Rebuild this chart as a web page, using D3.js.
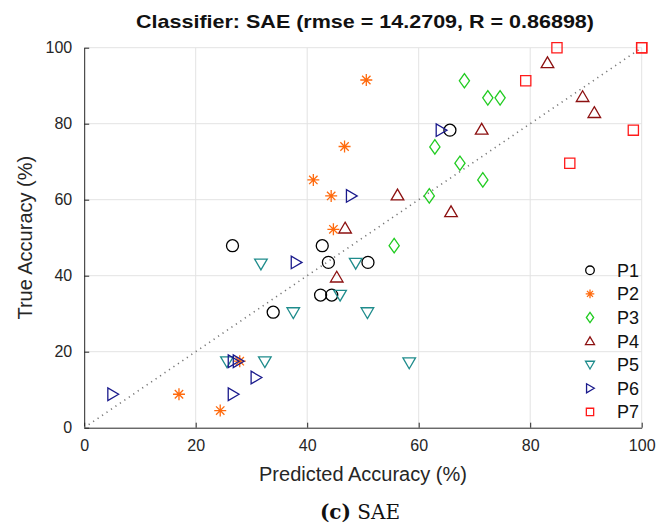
<!DOCTYPE html>
<html lang="en">
<head>
<meta charset="UTF-8">
<title>Classifier SAE scatter</title>
<style type="text/css">
	body{ margin: 0; background: #fff; font-family: 'Liberation Sans', Arial, sans-serif; }
	.grid line { stroke: #e3e3e3; stroke-width: 1px }
	.axis path, .axis line { fill: none; stroke: #262626; stroke-width: 1px }
	.axis text { font-size: 16px; fill: #262626 }
	.label { font-size: 20px; fill: #262626 }
	.title { font-size: 19px; font-weight: bold; fill: #111 }
	.legend text { font-size: 18px; fill: #111 }
	.mark { fill: none; stroke-width: 1.3px }
</style>
<script src="https://cdn.jsdelivr.net/npm/d3@7"></script>
</head>
<body>
<script type="text/javascript">

// values: [predicted, true]
var p1 = [[26.6,47.9],[42.7,47.9],[43.8,43.5],[50.9,43.5],[42.4,34.9],[44.4,34.9],[33.9,30.4],[65.6,78.3]];
var p2 = [[50.6,91.5],[46.7,74],[41.1,65.2],[44.3,61],[44.7,52.2],[27.9,17.5],[17,8.8],[24.4,4.5]];
var p3 = [[68.2,91.3],[72.4,86.8],[74.6,86.8],[62.9,73.9],[67.4,69.6],[71.5,65.2],[61.9,61],[55.6,47.9]];
var p4 = [[46.8,52.5],[45.3,39.6],[56.2,61.2],[65.8,56.8],[71.3,78.5],[83.1,96],[89.4,87.1],[91.5,82.9]];
var p5 = [[31.7,43.1],[48.7,43.3],[45.9,34.9],[37.5,30.3],[50.8,30.3],[58.3,17.1],[25.6,17.4],[32.4,17.4]];
var p6 = [[64,78.3],[47.9,61],[38,43.5],[26.7,17.5],[27.6,17.5],[30.8,13.2],[5.1,8.8],[26.7,8.8]];
var p7 = [[84.8,100],[100,100],[100,100],[79.2,91.3],[98.5,78.3],[87.1,69.6]];

var seriesNames = ['P1','P2','P3','P4','P5','P6','P7'];
var seriesData = [p1, p2, p3, p4, p5, p6, p7];
var seriesMarks = ['circle','star','diamond','up','down','right','square'];
var seriesColors = ['#000000','#ff6a0d','#22cc22','#8c1010','#1f8c8c','#1a1a8c','#ff1a1a'];
var ticks = [0, 20, 40, 60, 80, 100];

var titleText = 'Classifier: SAE (rmse = 14.2709, R = 0.86898)';

var width = 659, height = 530;
var plotLeft = 84.2, plotRight = 641.7, plotTop = 47.7, plotBottom = 427.7;

var svg = d3.select('body').append('svg')
	.attr('width', width)
	.attr('height', height);

var xScale = d3.scaleLinear().domain([0, 100]).range([plotLeft, plotRight]);
var yScale = d3.scaleLinear().domain([0, 100]).range([plotBottom, plotTop]);

// grid
var grid = svg.append('g').attr('class', 'grid');
grid.selectAll('.gx').data(ticks.slice(1)).enter().append('line')
	.attr('x1', d => xScale(d)).attr('x2', d => xScale(d))
	.attr('y1', plotTop).attr('y2', plotBottom);
grid.selectAll('.gy').data(ticks.slice(1)).enter().append('line')
	.attr('y1', d => yScale(d)).attr('y2', d => yScale(d))
	.attr('x1', plotLeft).attr('x2', plotRight);

// axes, ticks inward
var xAxis = d3.axisBottom(xScale).tickValues(ticks).tickSizeInner(-5).tickSizeOuter(0).tickPadding(12);
var yAxis = d3.axisLeft(yScale).tickValues(ticks).tickSizeInner(-5).tickSizeOuter(0).tickPadding(12);

svg.append('g').attr('class', 'x axis')
	.attr('transform', 'translate(0,' + plotBottom + ')')
	.call(xAxis)
	.selectAll('text').attr('font-family', 'Liberation Sans, Arial, sans-serif');
svg.append('g').attr('class', 'y axis')
	.attr('transform', 'translate(' + plotLeft + ',0)')
	.call(yAxis)
	.selectAll('text').attr('font-family', 'Liberation Sans, Arial, sans-serif');

// diagonal
svg.append('line')
	.attr('x1', xScale(0)).attr('y1', yScale(0))
	.attr('x2', xScale(100)).attr('y2', yScale(100))
	.attr('stroke', '#777').attr('stroke-width', 1.6)
	.attr('stroke-dasharray', '1.2,4.2');

// marker path, s = half size
function markPath(kind, s) {
	var p = d3.path();
	if (kind == 'circle') {
		p.moveTo(s, 0); p.arc(0, 0, s, 0, 2 * Math.PI);
	} else if (kind == 'square') {
		p.rect(-s * 0.85, -s * 0.85, s * 1.7, s * 1.7);
	} else if (kind == 'diamond') {
		p.moveTo(0, -s * 1.2); p.lineTo(s * 0.85, 0); p.lineTo(0, s * 1.2); p.lineTo(-s * 0.85, 0); p.closePath();
	} else if (kind == 'up') {
		p.moveTo(0, -s); p.lineTo(s * 1.05, s * 0.8); p.lineTo(-s * 1.05, s * 0.8); p.closePath();
	} else if (kind == 'down') {
		p.moveTo(0, s); p.lineTo(s * 1.05, -s * 0.8); p.lineTo(-s * 1.05, -s * 0.8); p.closePath();
	} else if (kind == 'right') {
		p.moveTo(s, 0); p.lineTo(-s * 0.8, s * 1.05); p.lineTo(-s * 0.8, -s * 1.05); p.closePath();
	} else if (kind == 'star') {
		p.moveTo(-s, 0); p.lineTo(s, 0);
		p.moveTo(0, -s); p.lineTo(0, s);
		var d = s * 0.7;
		p.moveTo(-d, -d); p.lineTo(d, d);
		p.moveTo(-d, d); p.lineTo(d, -d);
	}
	return p.toString();
}

// points
seriesData.forEach(function(data, i) {
	svg.append('g').selectAll('path')
		.data(data)
		.enter().append('path')
		.attr('class', 'mark')
		.attr('transform', d => 'translate(' + xScale(d[0]) + ',' + yScale(d[1]) + ')')
		.attr('d', markPath(seriesMarks[i], 6))
		.attr('stroke', seriesColors[i]);
});

// legend
var legend = svg.selectAll('.legend')
	.data(seriesNames)
	.enter().append('g')
	.attr('class', 'legend')
	.attr('transform', (d, i) => 'translate(590,' + (270.3 + i * 23.6) + ')');
legend.append('path')
	.attr('class', 'mark')
	.attr('d', (d, i) => markPath(seriesMarks[i], 4.3))
	.attr('stroke', (d, i) => seriesColors[i]);
legend.append('text')
	.attr('x', 27).attr('dy', '0.36em')
	.text(d => d);

// labels
svg.append('text').attr('class', 'title')
	.attr('x', 365).attr('y', 28)
	.attr('text-anchor', 'middle')
	.attr('textLength', 458)
	.attr('lengthAdjust', 'spacingAndGlyphs')
	.text(titleText);

svg.append('text').attr('class', 'label')
	.attr('x', (plotLeft + plotRight) / 2).attr('y', 481)
	.attr('text-anchor', 'middle')
	.text('Predicted Accuracy (%)');

svg.append('text').attr('class', 'label')
	.attr('transform', 'translate(32,' + ((plotTop + plotBottom) / 2) + ') rotate(-90)')
	.attr('text-anchor', 'middle')
	.text('True Accuracy (%)');

var cap = svg.append('text')
	.attr('x', 360).attr('y', 519)
	.attr('text-anchor', 'middle')
	.attr('font-family', 'DejaVu Serif, serif')
	.attr('font-size', 20)
	.attr('fill', '#111');
cap.append('tspan').attr('font-weight', 'bold').text('(c)');
cap.append('tspan').text(' SAE');

</script>
</body>
</html>
